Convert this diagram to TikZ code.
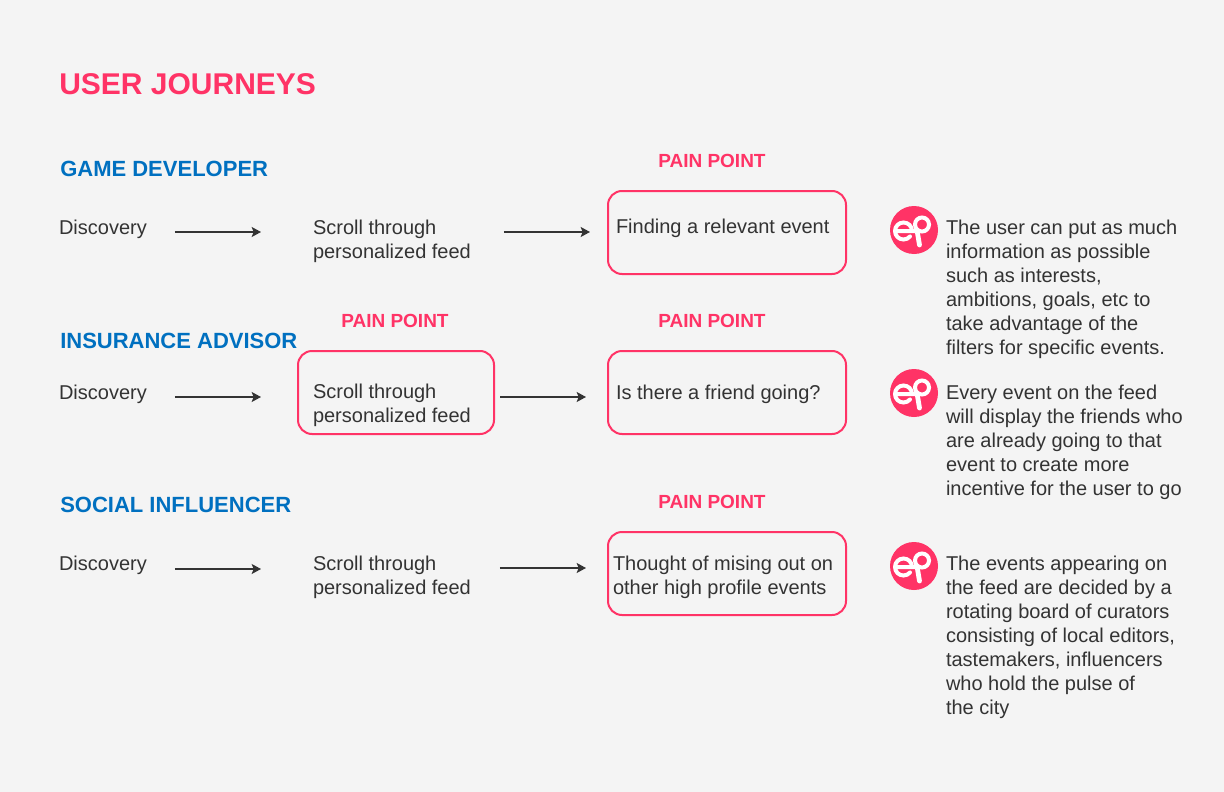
\documentclass[tikz,border=0pt]{standalone}
\usepackage{fontspec}
\setmainfont{Liberation Sans}
\usetikzlibrary{arrows.meta}
\definecolor{pinkc}{HTML}{FF3366}
\definecolor{bluec}{HTML}{0070C0}
\definecolor{bgc}{HTML}{F4F4F4}
\definecolor{txtc}{HTML}{333333}
\tikzset{
  x=.75pt,y=-.75pt,
  body/.style={anchor=base west,inner sep=0pt,outer sep=0pt,text=txtc,align=left,font=\fontsize{15}{18}\selectfont},
  titletext/.style={anchor=base west,inner sep=0pt,text=pinkc,font=\fontsize{22.5}{28}\selectfont\bfseries},
  heading/.style={anchor=base west,inner sep=0pt,text=bluec,font=\fontsize{16.5}{20}\selectfont\bfseries},
  painlabel/.style={anchor=base west,inner sep=0pt,text=pinkc,font=\fontsize{14.25}{17}\selectfont\bfseries},
  painbox/.style={draw=pinkc,line width=1.5pt,rounded corners=10.5pt,inner sep=0pt,outer sep=0pt,anchor=north west},
  flow/.style={draw=txtc,line width=1.2pt,-{Stealth[length=7pt,width=7.5pt,inset=1.5pt]}},
  logo/.pic={
    \fill[pinkc] (0,0) circle (24);
    \draw[white,line width=3pt,line cap=round]
      (-19,1) -- (1,1)
      (-19,1) arc[start angle=180,end angle=360,radius=8.5]
      (-19,1) arc[start angle=180,end angle=40,radius=8.5];
    \draw[white,line width=3pt] (8,-5.5) circle (7);
    \draw[white,line width=3.6pt,line cap=round] (3.5,3) -- (5.5,15);
  }
}
\begin{document}
\begin{tikzpicture}
\path[use as bounding box,fill=bgc] (0,0) rectangle (1224,792);
\node[titletext] (title) at (59,94) {USER JOURNEYS};
\node[heading] (h1) at (60,176) {GAME DEVELOPER};
\node[heading] (h2) at (60,348) {INSURANCE ADVISOR};
\node[heading] (h3) at (60,512) {SOCIAL INFLUENCER};
\node[painlabel] (l1) at (658,167) {PAIN POINT};
\node[painlabel] (l2a) at (341,327) {PAIN POINT};
\node[painlabel] (l2) at (658,327) {PAIN POINT};
\node[painlabel] (l3) at (658,508) {PAIN POINT};
% boxes
\node[painbox,minimum width=178.5pt,minimum height=62.25pt] (p1) at (608,191) {};
\node[painbox,minimum width=147pt,minimum height=62.25pt] (s2) at (298,351) {};
\node[painbox,minimum width=178.5pt,minimum height=62.25pt] (p2) at (608,351) {};
\node[painbox,minimum width=178.5pt,minimum height=62.25pt] (p3) at (608,532) {};
% row texts
\node[body] (d1) at (59,234) {Discovery};
\node[body] (d2) at (59,399) {Discovery};
\node[body] (d3) at (59,570) {Discovery};
\node[body] (s1) at (313,258) {Scroll through\\personalized feed};
\node[body] (s2t) at (313,422) {Scroll through\\personalized feed};
\node[body] (s3) at (313,594) {Scroll through\\personalized feed};
\node[body] (p1t) at (616,233) {Finding a relevant event};
\node[body] (p2t) at (616,399) {Is there a friend going?};
\node[body] (p3t) at (613,594) {Thought of mising out on\\other high profile events};
% notes
\pic at (914,230) {logo};
\pic at (914,393) {logo};
\pic at (914,566) {logo};
\node[body] (n1) at (946,354) {The user can put as much\\information as possible\\such as interests,\\ambitions, goals, etc to\\take advantage of the\\filters for specific events.};
\node[body] (n2) at (946,495) {Every event on the feed\\will display the friends who\\are already going to that\\event to create more\\incentive for the user to go};
\node[body] (n3) at (946,714) {The events appearing on\\the feed are decided by a\\rotating board of curators\\consisting of local editors,\\tastemakers, influencers\\who hold the pulse of\\the city};
% connectors
\coordinate (r1) at (0,232);
\coordinate (r2) at (0,397);
\coordinate (r3) at (0,569);
\coordinate (r3b) at (0,568);
\draw[flow,shorten <=21pt,shorten >=39pt] (d1.east |- r1) -- (s1.west |- r1);
\draw[flow,shorten <=24.75pt,shorten >=13.5pt] (s1.east |- r1) -- (p1.west |- r1);
\draw[flow,shorten <=21pt,shorten >=27.75pt] (d2.east |- r2) -- (s2.west |- r2);
\draw[flow,shorten <=4.5pt,shorten >=16.5pt] (s2.east |- r2) -- (p2.west |- r2);
\draw[flow,shorten <=21pt,shorten >=39pt] (d3.east |- r3) -- (s3.west |- r3);
\draw[flow,shorten <=21.75pt,shorten >=16.5pt] (s3.east |- r3b) -- (p3.west |- r3b);
\end{tikzpicture}
\end{document}
